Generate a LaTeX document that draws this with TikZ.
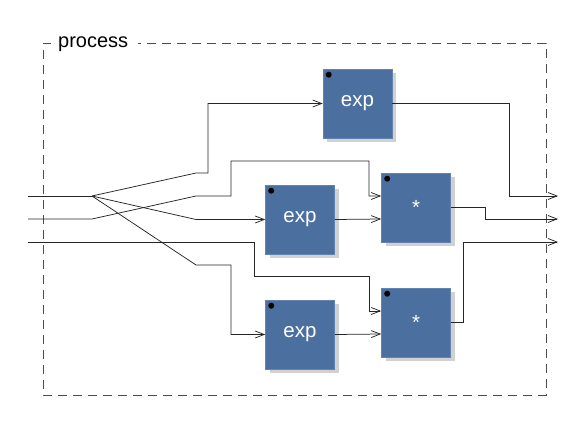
\documentclass[tikz,border=0pt]{standalone}
\usepackage{fontspec}
\setmainfont{Liberation Sans}
\usetikzlibrary{arrows.meta,shadows,calc}
\definecolor{blkfill}{RGB}{75,112,160}
\definecolor{blkedge}{RGB}{98,132,176}
\begin{document}
\begin{tikzpicture}[x=1pt,y=-1pt,
  blk/.style={draw=blkedge, line width=0.6pt, fill=blkfill,
    minimum width=69pt, minimum height=69pt, inner sep=0pt,
    text=white, font=\fontsize{20.5}{20.5}\selectfont,
    drop shadow={shadow xshift=4pt, shadow yshift=-4pt, fill=black!18, opacity=1}},
  wire/.style={draw=black!85, line width=0.75pt},
  arr/.style={wire, -{Straight Barb[length=9pt,width=7pt]}},
  group/.style={draw=black!70, line width=0.7pt, dash pattern=on 9pt off 6pt},
  lbl/.style={font=\fontsize{20}{20}\selectfont, inner sep=0pt}]
\useasboundingbox (0,0) rectangle (586,436);

% group frame with its title
\draw[group] (51,43) -- (43,43) -- (43,395) -- (546,395) -- (546,43) -- (138,43);
\node[lbl, anchor=west] (title) at (58,44.5) {process};

% blocks
\node[blk] (exp1) at (357.5,103.5) {exp};
\node[blk] (exp2) at (300,219.5) {exp};
\node[blk] (exp3) at (300,334.5) {exp};
\node[blk] (mul1) at (416,207.5) {*};
\node[blk] (mul2) at (416,322.5) {*};
\foreach \b in {exp1,exp2,exp3,mul1,mul2}
  \fill (\b.north west) ++(6,6) circle (3);

% ports
\coordinate (i1) at (28,196);
\coordinate (i2) at (28,219);
\coordinate (i3) at (28,242);
\coordinate (o1) at (558,196);
\coordinate (o2) at (558,219);
\coordinate (o3) at (558,242);
\coordinate (s) at (92,196);
\coordinate (m1a) at ($(mul1.west)+(0,-11.5)$);
\coordinate (m1b) at ($(mul1.west)+(0,11.5)$);
\coordinate (m2a) at ($(mul2.west)+(0,-11.5)$);
\coordinate (m2b) at ($(mul2.west)+(0,11.5)$);

% first input, fanned out to three places
\draw[wire] (i1) -- (s);
\draw[arr] (s) -- (196,173) -- (208,173) -- (208,103.5) -- (exp1.west);
\draw[arr] (s) -- (196,219.5) -- (exp2.west);
\draw[arr] (s) -- (196,265) -- (231,265) -- (231,334.5) -- (exp3.west);

% second and third inputs
\draw[arr] (i2) -- (92,219) -- (196,196) -- (231,196) -- (231,161) -- (369,161) -- (369,196) -- (m1a);
\draw[arr] (i3) -- (254,242) -- (254,276) -- (369,276) -- (369,311) -- (m2a);

% exp into products
\draw[arr] (exp2.east) -- (m1b);
\draw[arr] (exp3.east) -- (m2b);

% outputs
\draw[arr] (exp1.east) -- (509,103.5) -- (509,196) -- (o1);
\draw[arr] (mul1.east) -- (485,207.5) -- (485,219) -- (o2);
\draw[arr] (mul2.east) -- (463,322.5) -- (463,242) -- (o3);
\end{tikzpicture}
\end{document}
